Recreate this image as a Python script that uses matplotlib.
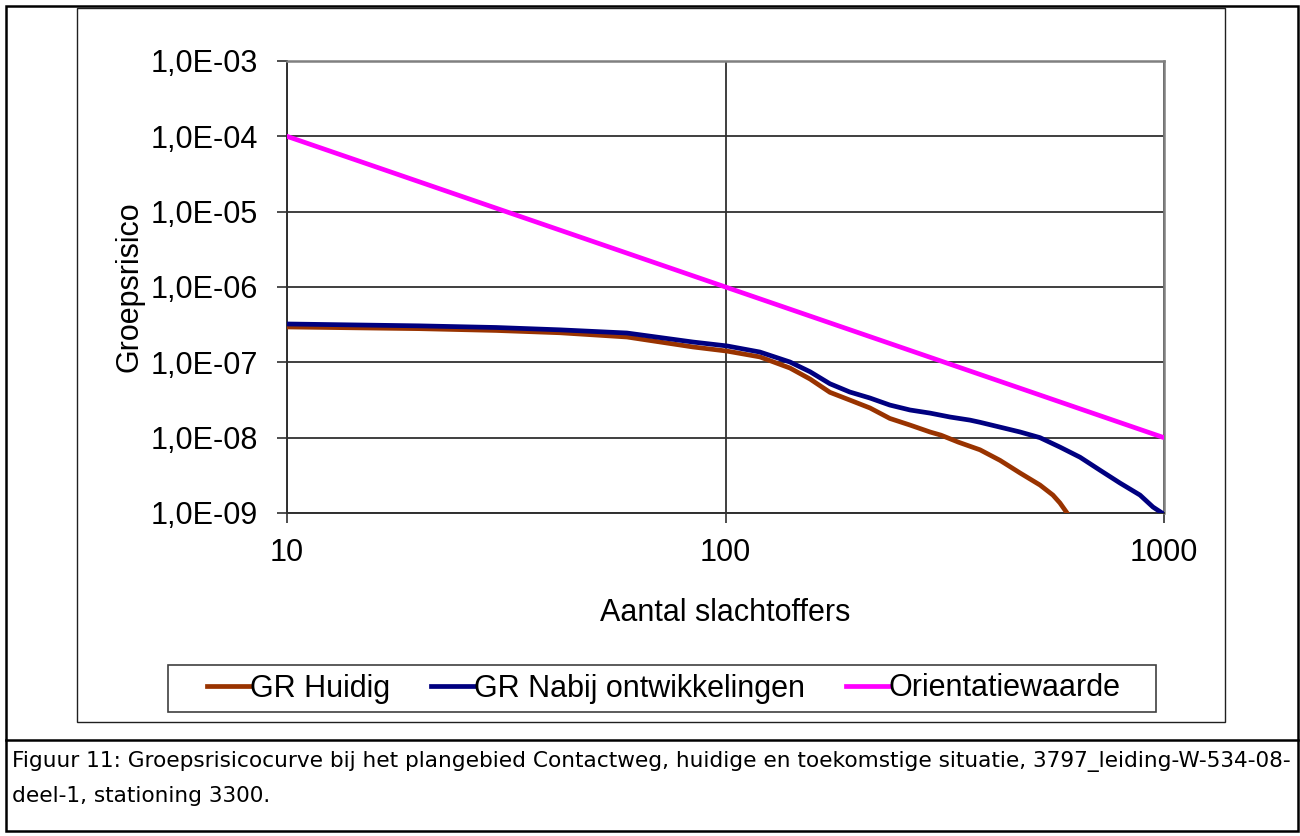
import numpy as np
import matplotlib
matplotlib.use("Agg")
import matplotlib.pyplot as plt
from matplotlib.ticker import FuncFormatter, NullLocator, FixedLocator
from matplotlib.lines import Line2D
from matplotlib.patches import Rectangle

# data
huidig_n = [10, 20, 30, 41.9, 59.6, 84.3, 100.8, 119.8, 140.3, 155.9, 173, 192, 213.5,
            237, 263.5, 292.6, 310, 340, 380.5, 422.7, 469.5, 521.5, 558, 579, 601]
huidig_f = [2.95e-7, 2.8e-7, 2.65e-7, 2.47e-7, 2.17e-7, 1.6e-7, 1.41e-7, 1.18e-7, 8.4e-8,
            6.0e-8, 4.0e-8, 3.16e-8, 2.48e-8, 1.8e-8, 1.47e-8, 1.19e-8, 1.08e-8, 8.7e-9,
            6.9e-9, 5.0e-9, 3.4e-9, 2.35e-9, 1.73e-9, 1.36e-9, 1.0e-9]

nabij_n = [10, 20, 30, 41.9, 59.6, 84.3, 100.8, 119.8, 140.3, 155.9, 173, 192, 213.5,
           237, 263.5, 292.6, 325, 361, 380.5, 422.7, 469.5, 521.5, 579, 643.5, 714.5,
           793.6, 881.6, 943.8, 990]
nabij_f = [3.23e-7, 3.05e-7, 2.9e-7, 2.7e-7, 2.45e-7, 1.86e-7, 1.65e-7, 1.37e-7, 1.01e-7,
           7.5e-8, 5.2e-8, 4.04e-8, 3.36e-8, 2.71e-8, 2.33e-8, 2.12e-8, 1.88e-8, 1.71e-8,
           1.6e-8, 1.38e-8, 1.19e-8, 1.0e-8, 7.5e-9, 5.5e-9, 3.7e-9, 2.5e-9, 1.73e-9,
           1.2e-9, 1.0e-9]

orient_n = [10, 100, 1000]
orient_f = [1e-4, 1e-6, 1e-8]

labels = ["GR Huidig", "GR Nabij ontwikkelingen", "Orientatiewaarde"]
colors = ["#993300", "#000080", "#FF00FF"]

caption1 = ("Figuur 11: Groepsrisicocurve bij het plangebied Contactweg, huidige en "
            "toekomstige situatie, 3797_leiding-W-534-08-")
caption2 = "deel-1, stationing 3300."

plt.rcParams['font.family'] = ['Liberation Sans', 'DejaVu Sans']

W, H = 1300, 836
fig = plt.figure(figsize=(W / 100, H / 100), dpi=100)

def fx(px):
    return px / W

def fy(py):
    return 1 - py / H

# plot area
ax = fig.add_axes([fx(287), fy(513), fx(1164) - fx(287), fy(61) - fy(513)])
ax.set_xscale('log')
ax.set_yscale('log')

lw = 3.4
ax.plot(huidig_n, huidig_f, color=colors[0], lw=lw, label=labels[0], zorder=3)
ax.plot(nabij_n, nabij_f, color=colors[1], lw=lw, label=labels[1], zorder=3)
ax.plot(orient_n, orient_f, color=colors[2], lw=lw, label=labels[2], zorder=3)

ax.set_xlim(10, 1000)
ax.set_ylim(1e-9, 1e-3)

ax.xaxis.set_major_locator(FixedLocator([10, 100, 1000]))
ax.yaxis.set_major_locator(FixedLocator([10.0 ** e for e in range(-9, -2)]))
ax.xaxis.set_minor_locator(NullLocator())
ax.yaxis.set_minor_locator(NullLocator())
ax.xaxis.set_major_formatter(FuncFormatter(lambda v, p: f"{v:.0f}"))
ax.yaxis.set_major_formatter(FuncFormatter(lambda v, p: f"{v:.1E}".replace('.', ',')))

ax.grid(True, which='major', color='#303030', lw=1.3, zorder=1)
ax.tick_params(axis='y', direction='out', length=7.2, width=1.2, color='#303030',
               labelsize=22, pad=13.5)
ax.tick_params(axis='x', direction='out', length=7.2, width=1.2, color='#303030',
               labelsize=22, pad=11)

for s in ['left', 'bottom']:
    ax.spines[s].set_color('#303030')
    ax.spines[s].set_linewidth(1.4)
for s in ['top', 'right']:
    ax.spines[s].set_color('#808080')
    ax.spines[s].set_linewidth(1.8)

ax.set_xlabel("Aantal slachtoffers", fontsize=22)
ax.set_ylabel("Groepsrisico", fontsize=22)
ax.xaxis.set_label_coords(0.5, -0.188)
ax.yaxis.set_label_coords(-0.163, 0.5)

# legend entries, with its own box drawn below
leg = ax.legend(loc='center', bbox_to_anchor=(fx(664), fy(688.5)),
                bbox_transform=fig.transFigure, ncol=3, fontsize=22,
                frameon=False, handlelength=1.4, handletextpad=0.0,
                columnspacing=1.35, borderpad=0.35, borderaxespad=0)
fig.add_artist(Rectangle((fx(168), fy(712)), fx(1156) - fx(168), fy(665) - fy(712),
                         transform=fig.transFigure, fill=False, ec='#404040', lw=1.2))

# chart frame, outer border and caption
fig.add_artist(Rectangle((fx(77), fy(722)), fx(1225) - fx(77), fy(8) - fy(722),
                         transform=fig.transFigure, fill=False, ec='#202020', lw=1.0))
fig.add_artist(Rectangle((fx(6), fy(831)), fx(1298) - fx(6), fy(6) - fy(831),
                         transform=fig.transFigure, fill=False, ec='black', lw=1.8))
fig.add_artist(Line2D([fx(6), fx(1298)], [fy(740), fy(740)],
                      transform=fig.transFigure, color='black', lw=1.8))

fig.text(fx(12), fy(762), caption1, fontsize=15.55, family='DejaVu Sans', va='center')
fig.text(fx(12), fy(796), caption2, fontsize=15.55, family='DejaVu Sans', va='center')

fig.savefig("out.png", dpi=100)
